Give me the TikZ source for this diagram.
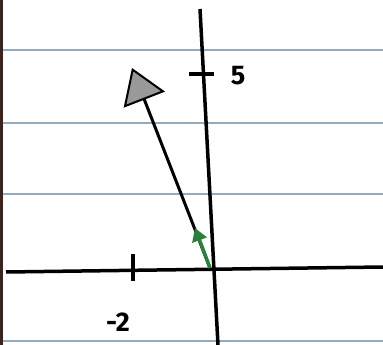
\documentclass[tikz,border=0pt]{standalone}
\usepackage{fontspec}
\setsansfont{Fira Sans}
\usetikzlibrary{arrows.meta}
\definecolor{ruleblue}{RGB}{150,170,190}
\definecolor{penbrown}{RGB}{60,35,30}
\definecolor{markgreen}{RGB}{40,130,60}
\tikzset{
  rule/.style={ruleblue,line width=2pt},
  axis/.style={black,line width=3.5pt},
  lbl/.style={font=\sffamily\bfseries\fontsize{27}{27}\selectfont},
}
\begin{document}
\begin{tikzpicture}[x=1pt,y=-1pt]
						\useasboundingbox[fill=white] (0,0) rectangle (383,345);
						\foreach \y in {50,123,194,341}
						  \draw[rule] (0,\y) to (383,\y);
						\draw[penbrown,line width=3pt] (1.5,0) to (1.5,345);
						\coordinate (xl) at (6,272);
						\coordinate (xr) at (383,267);
						\coordinate (yt) at (200,9);
						\coordinate (yb) at (218,345);
						\coordinate (O) at (210,268);
						\coordinate (A) at (132,68);
						\coordinate (B) at (195,228);
						\draw[axis] (xl) to (xr);
						\draw[axis] (yt) to (yb);
						\draw[axis] (133,254) to (133,281);
						\draw[axis] (189,74) to (214,74);
						\draw[black,line width=3pt,-{Triangle[length=34pt,width=44pt,fill=gray!80,line width=2pt]}] (O) to (A);
						\draw[markgreen,line width=3.5pt,-{Triangle[length=13pt,width=15pt]}] (O) to (B);
						\node[lbl] (five) at (238,76) {5};
						\node[lbl] (mtwo) at (118,322) {-2};
					\end{tikzpicture}
\end{document}
